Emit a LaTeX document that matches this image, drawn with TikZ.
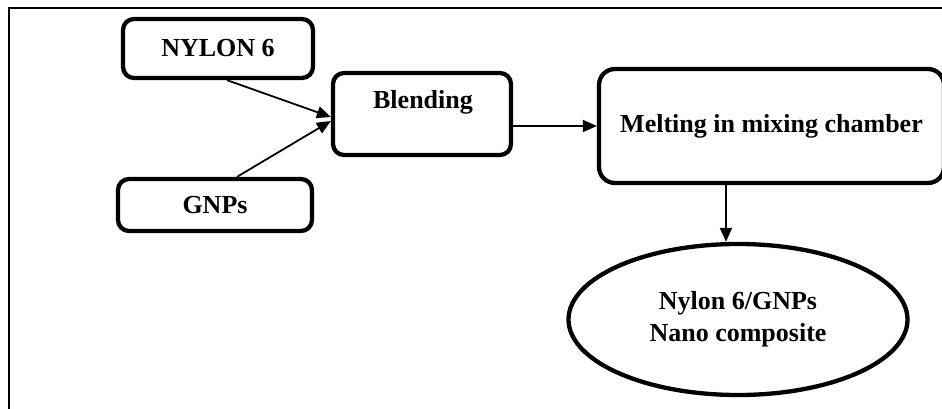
\documentclass[tikz,border=0pt]{standalone}
\usepackage{fontspec}
\setmainfont{Liberation Serif}
\usetikzlibrary{arrows.meta,shapes.geometric}
\begin{document}
\begin{tikzpicture}[x=1pt,y=1pt,
  boxstyle/.style={draw,line width=4.3pt,rounded corners=11pt,inner sep=0pt,fill=white},
  txt/.style={font=\fontsize{26}{32}\selectfont\bfseries,align=center},
  arr/.style={line width=1.8pt,-{Triangle[length=14pt,width=12pt]}}]
\useasboundingbox (0,0) rectangle (942,408);
\fill[white] (0,0) rectangle (942,408);
\draw[line width=1.6pt] (9,-20) -- (9,400) -- (960,400);
\node[boxstyle,txt,minimum width=190pt,minimum height=59pt] (nylon) at (218,359.5) {NYLON 6};
\node[boxstyle,txt,minimum width=194pt,minimum height=52pt] (gnps) at (215,203) {GNPs};
\node[boxstyle,minimum width=178pt,minimum height=82pt] (blend) at (422,294) {};
\node[txt] (blendtxt) at (423,306) {Blending};
\node[boxstyle,txt,minimum width=345pt,minimum height=114pt,rounded corners=16pt] (melt) at (771.5,282) {Melting in mixing chamber};
\node[draw,line width=4.3pt,ellipse,inner sep=0pt,minimum width=339pt,minimum height=151pt,txt] (ell) at (738,88.5) {Nylon 6/GNPs\\Nano composite};
\draw[arr] ([xshift=9pt]nylon.south) -- ([yshift=-3pt]blend.west);
\draw[arr] ([xshift=22pt]gnps.north) -- ([yshift=-7pt]blend.west);
\draw[arr] (blend.east |- melt.west) -- (melt.west);
\coordinate (mdown) at ([xshift=-45.5pt]melt.south);
\draw[arr] (mdown) -- (mdown |- ell.north);
\end{tikzpicture}
\end{document}
